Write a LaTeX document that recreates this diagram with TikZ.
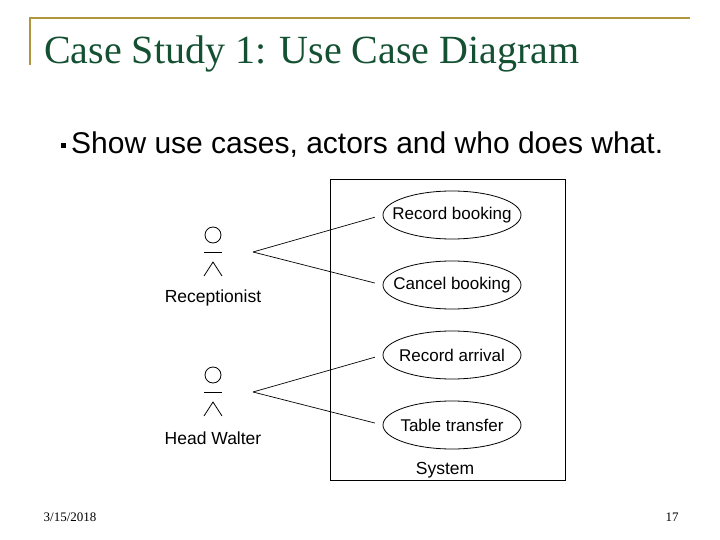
\documentclass[tikz,border=0pt]{standalone}
\usepackage{fontspec}
\usetikzlibrary{shapes.geometric}
\setmainfont{Liberation Serif}
\newfontfamily\sans{Liberation Sans}
\definecolor{gold}{RGB}{176,150,60}
\definecolor{titlegreen}{RGB}{20,80,50}
\begin{document}
\begin{tikzpicture}[x=1pt,y=-1pt,
  uc/.style={draw,ellipse,minimum width=138pt,minimum height=48pt,inner xsep=-14pt,inner ysep=0pt,font=\sans\fontsize{17}{17}\selectfont,line width=0.8pt},
  lbl/.style={font=\sans\fontsize{17.5}{17.5}\selectfont},
  conn/.style={line width=0.7pt,shorten >=8pt}]
\useasboundingbox (0,0) rectangle (720,540);
\draw[gold,line width=2pt] (30,65) -- (30,18) -- (690,18);
\node[anchor=base west,text=titlegreen,font=\fontsize{40}{40}\selectfont,inner sep=0] (title) at (44,64) {Case Study 1: Use Case Diagram};
\node[fill=black,minimum size=5pt,inner sep=0] (bullet) at (63,146) {};
\node[anchor=west,font=\sans\fontsize{30}{30}\selectfont,inner sep=0] (sub) at (71,145) {Show use cases, actors and who does what.};
\node[draw,line width=1pt,minimum width=235pt,minimum height=300pt,inner sep=0] (sys) at (447.5,330) {};
\node[lbl] (syslbl) at (445,470) {System};
\node[uc] (rb) at (452,215) {Record booking};
\node[uc] (cb) at (452,285) {Cancel booking};
\node[uc] (ra) at (452,355) {Record arrival};
\node[uc] (tt) at (452,425) {Table transfer};
\foreach \n/\y/\t in {rec/0/Receptionist,hw/140/Head Walter}{
  \draw[line width=0.8pt] (213,235+\y) circle (8);
  \draw[line width=0.8pt] (204,252+\y) -- (222,252+\y);
  \draw[line width=0.8pt] (204,276+\y) -- (213,262+\y) -- (222,276+\y);
  \node[lbl] (\n) at (213,298+\y) {\t};
  \coordinate (\n p) at (253,252+\y);
}
\draw[conn] (recp) -- (rb.west);
\draw[conn] (recp) -- (cb.west);
\draw[conn] (hwp) -- (ra.west);
\draw[conn] (hwp) -- (tt.west);
\node[font=\fontsize{13}{13}\selectfont] (date) at (70,517) {3/15/2018};
\node[font=\fontsize{13}{13}\selectfont] (pg) at (672,517) {17};
\end{tikzpicture}
\end{document}
